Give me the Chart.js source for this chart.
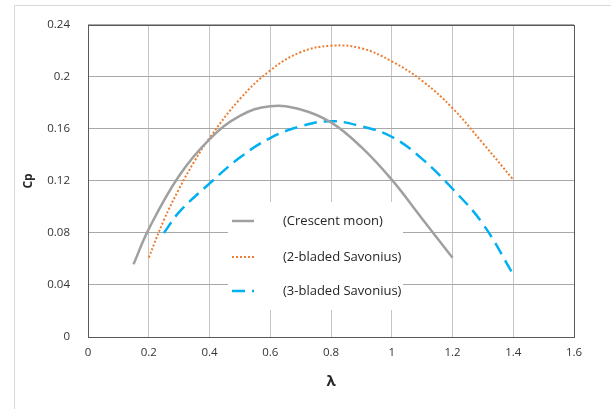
<!DOCTYPE html>
<html lang="en">
<head>
  <meta charset="UTF-8"/>
  <title>Cp vs lambda</title>
  <style>
    html, body { margin: 0; padding: 0; background: #fff; }
    #wrap { position: relative; width: 611px; height: 409px; overflow: hidden; }
    #frame { position: absolute; left: 14px; top: 5px; width: 620px; height: 420px;
      border-left: 1px solid #d9d9d9; border-top: 1px solid #d9d9d9; }
    canvas { position: absolute; left: 0; top: 0; }
  </style>
</head>
<body>
  <div id="wrap">
    <div id="frame"></div>
    <canvas id="chart" width="611" height="409"></canvas>
  </div>
  <script src="https://cdn.jsdelivr.net/npm/chart.js"></script>
  <script>
    // values
    const xTicks = ['0', '0.2', '0.4', '0.6', '0.8', '1', '1.2', '1.4', '1.6']
    const yTicks = ['0', '0.04', '0.08', '0.12', '0.16', '0.2', '0.24']
    const seriesNames = ['(Crescent moon)', '(2-bladed Savonius)', '(3-bladed Savonius)']

    const moonX = [0.15, 0.2, 0.3, 0.4, 0.5, 0.6, 0.7, 0.8, 0.9, 1.0, 1.1, 1.2]
    const moonY = [0.056, 0.083, 0.124, 0.152, 0.170, 0.1775, 0.175, 0.165, 0.146, 0.121, 0.091, 0.061]

    const sav2X = [0.2, 0.25, 0.3, 0.35, 0.4, 0.5, 0.6, 0.7, 0.8, 0.9, 1.0, 1.1, 1.2, 1.3, 1.4]
    const sav2Y = [0.061, 0.090, 0.114, 0.135, 0.153, 0.183, 0.205, 0.219, 0.224, 0.222, 0.212, 0.197, 0.176, 0.149, 0.121]

    const sav3X = [0.25, 0.3, 0.4, 0.5, 0.6, 0.7, 0.8, 0.9, 1.0, 1.1, 1.2, 1.3, 1.4]
    const sav3Y = [0.080, 0.096, 0.118, 0.138, 0.153, 0.162, 0.166, 0.162, 0.154, 0.137, 0.114, 0.087, 0.048]

    const pts = (xs, ys) => xs.map((x, i) => ({ x: x, y: ys[i] }))

    const styles = [
      { color: '#a0a0a0', width: 2.5, dash: [] },
      { color: '#ed7d31', width: 2, dash: [2, 2] },
      { color: '#00b0f0', width: 2.5, dash: [13, 7] }
    ]

    // legend box sits inside the plot, over the grid
    const boxLegend = {
      id: 'boxLegend',
      beforeDatasetsDraw(chart) {
        const ctx = chart.ctx, a = chart.chartArea
        ctx.save()
        ctx.fillStyle = '#fff'
        ctx.fillRect(228, 202, 175, 108)
        ctx.font = '13px "Open Sans"'
        ctx.fillStyle = '#262626'
        ctx.textBaseline = 'middle'
        const rows = [221, 257, 291]
        styles.forEach((s, i) => {
          ctx.beginPath()
          ctx.strokeStyle = s.color
          ctx.lineWidth = s.width
          ctx.setLineDash(s.dash)
          ctx.moveTo(232, rows[i])
          ctx.lineTo(254, rows[i])
          ctx.stroke()
          ctx.setLineDash([])
          ctx.fillText(seriesNames[i], 283, rows[i])
        })
        // plot frame
        ctx.strokeStyle = '#595959'
        ctx.lineWidth = 1
        ctx.strokeRect(Math.round(a.left) + 0.5, Math.round(a.top) + 0.5,
          Math.round(a.right - a.left), Math.round(a.bottom - a.top))
        ctx.restore()
      },
      afterDraw(chart) {
        const ctx = chart.ctx
        ctx.save()
        ctx.fillStyle = '#262626'
        ctx.textAlign = 'center'
        ctx.textBaseline = 'middle'
        ctx.font = 'bold 15px "Open Sans"'
        ctx.fillText('λ', 331, 382)
        ctx.translate(29, 181)
        ctx.rotate(-Math.PI / 2)
        ctx.font = 'bold 12px "Open Sans"'
        ctx.fillText('Cp', 0, 0)
        ctx.restore()
      }
    }

    new Chart(document.getElementById('chart'), {
      type: 'scatter',
      data: {
        datasets: [
          { label: seriesNames[0], data: pts(moonX, moonY) },
          { label: seriesNames[1], data: pts(sav2X, sav2Y) },
          { label: seriesNames[2], data: pts(sav3X, sav3Y) }
        ].map((d, i) => Object.assign(d, {
          showLine: true,
          borderColor: styles[i].color,
          borderWidth: styles[i].width,
          borderDash: styles[i].dash,
          pointRadius: 0,
          tension: 0.4,
          fill: false
        }))
      },
      options: {
        responsive: false,
        animation: false,
        layout: { padding: { top: 20, right: 37, left: 0, bottom: 0 } },
        plugins: { legend: { display: false }, tooltip: { enabled: false } },
        scales: {
          x: {
            type: 'linear', min: 0, max: 1.6,
            afterFit: s => { s.height = 72 },
            grid: { color: '#c4c4c4', drawTicks: false },
            border: { display: false },
            ticks: {
              stepSize: 0.2, padding: 9, color: '#333',
              font: { family: 'Open Sans', size: 11.5 },
              callback: (v, i) => xTicks[i]
            }
          },
          y: {
            min: 0, max: 0.24,
            afterFit: s => { s.width = 88 },
            grid: { color: '#a8a8a8', drawTicks: false },
            border: { display: false },
            ticks: {
              stepSize: 0.04, padding: 18, color: '#333',
              font: { family: 'Open Sans', size: 11.5 },
              callback: (v, i) => yTicks[i]
            }
          }
        }
      },
      plugins: [boxLegend]
    })
  </script>
</body>
</html>
